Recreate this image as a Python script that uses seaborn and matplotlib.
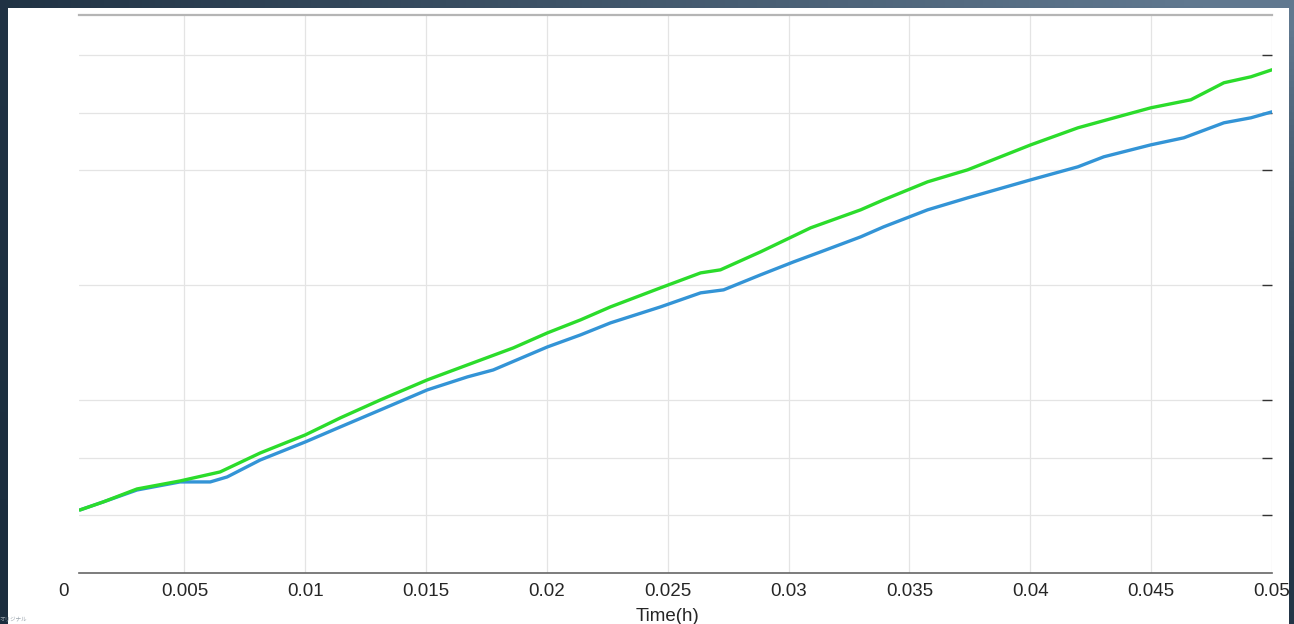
import numpy as np
import pandas as pd
import matplotlib
matplotlib.use("Agg")
import matplotlib.pyplot as plt
import matplotlib.transforms as mtransforms
from matplotlib.colors import LinearSegmentedColormap
import seaborn as sns

# values (time in hours, y in grid units)
blue_t = [0.00068, 0.00164, 0.00304, 0.00482, 0.00607, 0.00677, 0.00814, 0.0100,
          0.01145, 0.01311, 0.01505, 0.01671, 0.01778, 0.02002, 0.02139, 0.02263,
          0.02470, 0.02636, 0.02731, 0.02884, 0.03021, 0.03133, 0.03298, 0.03393,
          0.03575, 0.03741, 0.04002, 0.04197, 0.04304, 0.04499, 0.04635, 0.04801,
          0.04913, 0.0500]
blue_y = [1.096, 1.235, 1.443, 1.583, 1.583, 1.670, 1.965, 2.278,
          2.539, 2.835, 3.183, 3.409, 3.530, 3.930, 4.139, 4.348,
          4.626, 4.870, 4.922, 5.183, 5.409, 5.583, 5.843, 6.017,
          6.313, 6.522, 6.835, 7.061, 7.235, 7.443, 7.565, 7.826,
          7.913, 8.017]

green_t = [0.00068, 0.00164, 0.00304, 0.00482, 0.00648, 0.00814, 0.0100, 0.01145,
           0.01311, 0.01505, 0.01671, 0.01861, 0.02002, 0.02139, 0.02263, 0.02470,
           0.02636, 0.02718, 0.02884, 0.03091, 0.03298, 0.03393, 0.03575, 0.03741,
           0.04002, 0.04197, 0.04362, 0.04499, 0.04664, 0.04801, 0.04913, 0.0500]
green_y = [1.096, 1.235, 1.461, 1.600, 1.757, 2.087, 2.400, 2.696,
           3.009, 3.357, 3.617, 3.913, 4.174, 4.400, 4.626, 4.957,
           5.217, 5.270, 5.583, 6.000, 6.313, 6.487, 6.800, 7.009,
           7.443, 7.739, 7.930, 8.087, 8.226, 8.522, 8.626, 8.748]

x_ticks = [0.005, 0.01, 0.015, 0.02, 0.025, 0.03, 0.035, 0.04, 0.045, 0.05]
x_labels = ["0.005", "0.01", "0.015", "0.02", "0.025", "0.03", "0.035", "0.04", "0.045", "0.05"]
y_grid = [1, 2, 3, 5, 7, 8, 9]

BLUE = "#3394d6"
GREEN = "#2bdc2b"

sns.set_style("white")
plt.rcParams["font.family"] = ["Liberation Sans", "Noto Sans CJK JP", "DejaVu Sans"]

W, H = 1294, 624
fig = plt.figure(figsize=(W / 100, H / 100), dpi=100)

# dark slide background, lighter towards the top right
bg = fig.add_axes([0, 0, 1, 1], zorder=-2)
gx, gy = np.meshgrid(np.linspace(0, 1, 200), np.linspace(0, 1, 100))
grad = np.clip(0.12 * gx + 0.88 * gx * (1 - gy) ** 2 + 0.08 * (1 - gy), 0, 1)
cmap = LinearSegmentedColormap.from_list("slide", ["#1b2d3e", "#60788f"])
bg.imshow(grad, cmap=cmap, aspect="auto", extent=[0, 1, 0, 1])
bg.add_patch(plt.Rectangle((8 / W, 0), (1289 - 8) / W, (H - 8) / H,
                           facecolor="white", edgecolor="none"))
bg.set_xlim(0, 1)
bg.set_ylim(0, 1)
bg.axis("off")

ax = fig.add_axes([79 / W, (H - 573) / H, (1272 - 79) / W, (573 - 15) / H])
ax.set_facecolor("none")

df = pd.concat([
    pd.DataFrame({"t": blue_t, "v": blue_y, "s": "blue"}),
    pd.DataFrame({"t": green_t, "v": green_y, "s": "green"}),
])
sns.lineplot(data=df, x="t", y="v", hue="s", palette={"blue": BLUE, "green": GREEN},
             linewidth=2.4, legend=False, ax=ax, zorder=3)

ax.set_xlim(0.00064, 0.05)
ax.set_ylim(0, 9.7)
ax.set_xticks(x_ticks)
ax.set_xticklabels(x_labels, fontsize=13.5)
ax.set_yticks(y_grid)
ax.yaxis.tick_right()
ax.tick_params(axis="y", direction="in", length=7, width=1, color="#333333",
               labelright=False, labelleft=False)
ax.tick_params(axis="x", direction="in", length=7, width=0.8, color="#555555",
               top=False, pad=7, labelsize=13.5)
ax.grid(True, color="#e4e4e4", linewidth=0.9)

# "0" label sits at x=0, just left of the plot box
trans = mtransforms.blended_transform_factory(ax.transData, ax.transAxes)
ax.annotate("0", xy=(0, 0), xycoords=trans, xytext=(0, -7), textcoords="offset points",
            ha="center", va="top", fontsize=13.5, annotation_clip=False)

ax.set_xlabel("Time(h)", fontsize=13.5, labelpad=0)
ax.set_ylabel("")
ax.xaxis.set_label_coords((667 - 79) / (1272 - 79), -0.062)

for side in ["left", "right"]:
    ax.spines[side].set_visible(False)
ax.spines["bottom"].set_color("#666666")
ax.spines["bottom"].set_linewidth(1.2)
ax.spines["top"].set_color("#b5b5b5")
ax.spines["top"].set_linewidth(1.6)

fig.text(0.0, 0.004, "オリジナル", fontsize=4, color="#9aa4ad",
         family=["Noto Sans CJK JP", "DejaVu Sans"])

fig.savefig("out.png", dpi=100)
